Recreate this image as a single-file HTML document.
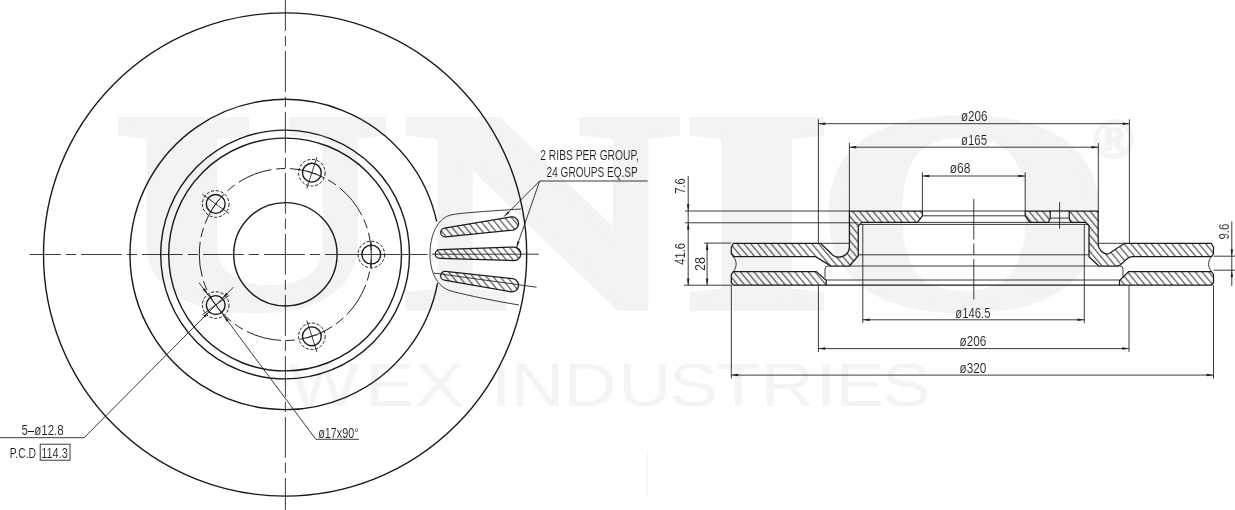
<!DOCTYPE html>
<html><head><meta charset="utf-8"><title>Brake disc drawing</title>
<style>
html,body{margin:0;padding:0;background:#fff;}
body{width:1235px;height:510px;overflow:hidden;}
svg{display:block;font-family:"Liberation Sans",sans-serif;filter:grayscale(1);}
.m{fill:none;stroke:#1a1a1a;stroke-width:1.4;}
.s{fill:none;stroke:#1a1a1a;stroke-width:1.25;stroke-linejoin:miter;}
.p{fill:none;stroke:#222;stroke-width:1.0;}
.t{fill:none;stroke:#262626;stroke-width:0.9;}
.ar{fill:#1a1a1a;stroke:none;}
.tx{font-family:"Liberation Sans",sans-serif;fill:#1c1c1c;stroke:#fff;stroke-width:0.1;}
.txg{opacity:0.999;}
.wmb{font-family:"Liberation Serif",serif;font-weight:bold;fill:#f3f3f3;stroke:#f3f3f3;stroke-linejoin:miter;stroke-miterlimit:2.5;}
.wm2{font-family:"Liberation Sans",sans-serif;fill:#f4f4f4;}
</style></head><body>
<svg width="1235" height="510" viewBox="0 0 1235 510">
<rect width="1235" height="510" fill="#ffffff"/>
<g class="wm">
<text class="wmb" transform="translate(0,306.2) scale(1.35,1)" x="84.9 299.5 505.7 604.4" font-size="282" stroke-width="9">UNIO</text>
<text transform="scale(1.2,1)" x="241.0 304.3 345.6 391.7 409.0 425.9 469.3 515.2 557.3 596.2 634.0 679.8 696.1 734.8" y="406" font-size="61.5" class="wm2">WEX INDUSTRIES</text>
<text x="1093.9" y="157.9" font-weight="bold" font-size="54" class="wm2" stroke="#f4f4f4" stroke-width="2.5">&#174;</text>
</g>
<line x1="647.3" y1="450" x2="647.3" y2="497.5" stroke="#f3f3f3" stroke-width="1.2"/>
<defs>
<pattern id="h2" width="5.2" height="8" patternUnits="userSpaceOnUse" patternTransform="rotate(-40)"><rect x="2" y="-1" width="0.9" height="10" fill="#1c1c1c"/></pattern>
<pattern id="h1" width="5.0" height="8" patternUnits="userSpaceOnUse" patternTransform="rotate(-38)"><rect x="2" y="-1" width="1.05" height="10" fill="#1c1c1c"/></pattern>
</defs>
<line class="t" x1="29.60" y1="254.50" x2="326.00" y2="254.50" stroke-dasharray="40.8 5 10.2 5" stroke-dashoffset="9.6"/>
<line class="t" x1="326.00" y1="254.50" x2="427.60" y2="254.50" />
<line class="t" x1="431.80" y1="254.20" x2="538.80" y2="254.20" />
<line class="t" x1="285.40" y1="0.00" x2="285.40" y2="510.00" stroke-dasharray="40.8 5 10.2 5" stroke-dashoffset="10"/>
<circle class="m" cx="285.10" cy="254.50" r="241.60" />
<path class="m" d="M437.55,283.03 A155.1,155.1 0 1 1 436.70,221.72" />
<circle class="m" cx="285.10" cy="254.50" r="124.40" />
<circle class="m" cx="285.10" cy="254.50" r="116.40" />
<circle class="p" cx="285.30" cy="254.50" r="86.00" stroke-dasharray="35.23 4.7 9.4 4.7" stroke-dashoffset="22.8"/>
<circle class="m" cx="285.40" cy="254.30" r="51.70" />
<circle class="m" cx="371.30" cy="254.50" r="9.40" />
<circle class="p" cx="371.30" cy="254.50" r="13.30" stroke-dasharray="3.1 1.7"/>
<line class="t" x1="371.30" y1="241.70" x2="371.30" y2="250.00" />
<line class="t" x1="371.30" y1="259.50" x2="371.30" y2="269.00" />
<circle class="m" cx="311.88" cy="172.71" r="9.40" />
<circle class="p" cx="311.88" cy="172.71" r="13.30" stroke-dasharray="3.1 1.7"/>
<line class="t" x1="306.78" y1="188.40" x2="316.97" y2="157.02" />
<line class="t" x1="306.64" y1="171.01" x2="317.11" y2="174.41" />
<circle class="m" cx="215.72" cy="203.95" r="9.40" />
<circle class="p" cx="215.72" cy="203.95" r="13.30" stroke-dasharray="3.1 1.7"/>
<line class="t" x1="229.07" y1="213.65" x2="202.38" y2="194.25" />
<line class="t" x1="212.49" y1="208.40" x2="218.96" y2="199.50" />
<circle class="m" cx="215.72" cy="305.05" r="9.40" />
<circle class="p" cx="215.72" cy="305.05" r="13.30" stroke-dasharray="3.1 1.7"/>
<line class="t" x1="229.07" y1="295.35" x2="202.38" y2="314.75" />
<circle class="m" cx="311.88" cy="336.29" r="9.40" />
<circle class="p" cx="311.88" cy="336.29" r="13.30" stroke-dasharray="3.1 1.7"/>
<line class="t" x1="306.78" y1="320.60" x2="316.97" y2="351.98" />
<line class="t" x1="317.11" y1="334.59" x2="306.64" y2="337.99" />
<line class="t" x1="0.00" y1="437.70" x2="84.20" y2="437.70" />
<line class="t" x1="84.20" y1="437.70" x2="233.33" y2="287.30" />
<polygon class="ar" points="209.11,311.72 205.21,317.43 203.43,315.67"/>
<polygon class="ar" points="222.34,298.37 226.24,292.67 228.02,294.43"/>
<line class="t" x1="315.80" y1="439.30" x2="198.99" y2="282.60" />
<line class="t" x1="315.80" y1="439.30" x2="358.80" y2="439.30" />
<polygon class="ar" points="223.61,315.63 228.68,320.34 226.68,321.83"/>
<polygon class="ar" points="207.84,294.47 202.77,289.76 204.77,288.27"/>
<text class="tx" transform="translate(21.40,434.50)" font-size="15" textLength="42.30" lengthAdjust="spacingAndGlyphs" >5&#8211;&#248;12.8</text>
<text class="tx" transform="translate(9.80,457.50)" font-size="15" textLength="26.30" lengthAdjust="spacingAndGlyphs" >P.C.D</text>
<text class="tx" transform="translate(41.20,457.50)" font-size="15" textLength="26.60" lengthAdjust="spacingAndGlyphs" >114.3</text>
<rect class="t" x="40.2" y="444.2" width="29.8" height="16"/>
<text class="tx" transform="translate(318.20,437.50)" font-size="15" textLength="40.40" lengthAdjust="spacingAndGlyphs" >&#248;17x90&#176;</text>
<path class="t" d="M521,209 C490,211 466,212.5 453,214.5 C437,217 430,236 430,254 C430,272 437,287 451,291 C470,296 495,301 519,305" />
<path class="s" d="M445.54,236.78 L512.83,230.02 A6.6,6.6 0 0 0 511.08,216.93 L444.38,228.06 A4.4,4.4 0 0 0 445.54,236.78 Z" style="fill:url(#h2)"/>
<path class="s" d="M439.71,258.39 L514.02,260.62 A6.8,6.8 0 0 0 513.98,247.02 L439.69,249.59 A4.4,4.4 0 0 0 439.71,258.39 Z" style="fill:url(#h2)"/>
<path class="s" d="M444.34,280.17 L511.04,291.81 A6.6,6.6 0 0 0 512.89,278.74 L445.57,271.46 A4.4,4.4 0 0 0 444.34,280.17 Z" style="fill:url(#h2)"/>
<line class="t" x1="433.50" y1="273.00" x2="536.50" y2="287.20" />
<line class="t" x1="539.70" y1="181.00" x2="647.70" y2="181.00" />
<line class="t" x1="539.70" y1="181.00" x2="504.30" y2="216.40" />
<polygon class="ar" points="504.30,216.40 507.76,211.38 509.32,212.94"/>
<line class="t" x1="539.70" y1="181.00" x2="516.50" y2="247.40" />
<polygon class="ar" points="516.50,247.40 517.44,241.37 519.52,242.10"/>
<text class="tx" transform="translate(540.30,159.80)" font-size="15" textLength="98.50" lengthAdjust="spacingAndGlyphs" >2 RIBS PER GROUP,</text>
<text class="tx" transform="translate(546.60,176.60)" font-size="15" textLength="91.20" lengthAdjust="spacingAndGlyphs" >24 GROUPS EQ.SP</text>
<path class="s" d="M731.3,247.3 L733.5,243.3 L820.6,243.3 L830.9,253.3 A10.5,10.5 0 0 0 849.4,246.5 L849.4,211.0 L922.4,211.0 L922.4,215.8 L917.5,222.4 L861.8,222.4 L858.3,225.9 L858.3,255.7 L849.4,266 L830.9,266 L815.6,256.6 L733.3,256.6 L731.3,253.60000000000002 Z" style="fill:url(#h2)"/>
<path class="s" d="M731.3,274.5 L733.3,271.5 L816.2,271.5 L826.2,280.3 L826.2,285.2 L733.3,285.2 L731.3,282.7 Z" style="fill:url(#h2)"/>
<path class="s" d="M1213.5,247.3 L1211.3,243.3 L1124.6,243.3 L1108,254.2 A10.5,10.5 0 0 1 1098.2,244.5 L1098.2,211.0 L1069.2,211.0 L1069.2,218.1 L1070.8,222.4 L1085.5,222.4 L1089,225.9 L1089,256.8 L1098.9,266 L1116.4,266 C1124,266 1124,256.6 1133,256.6 L1211.5,256.6 L1213.5,253.60000000000002 Z" style="fill:url(#h2)"/>
<path class="s" d="M1025.2,211.0 L1050.2,211.0 L1050.2,218.1 L1048.4,222.4 L1029.8,222.4 L1025.2,215.8 Z" style="fill:url(#h2)"/>
<path class="s" d="M1213.5,274.5 L1211.5,271.5 L1128.7,271.5 L1119.5,280.5 L1119.5,285.2 L1211.5,285.2 L1213.5,282.7 Z" style="fill:url(#h2)"/>
<path class="t" d="M733.3,256.6 C737.0999999999999,260.6 737.0999999999999,267.5 733.3,271.5" />
<path class="t" d="M1211.5,256.6 C1207.7,260.6 1207.7,267.5 1211.5,271.5" />
<line class="t" x1="858.30" y1="224.40" x2="1089.00" y2="224.40" />
<line class="t" x1="922.40" y1="211.00" x2="1025.20" y2="211.00" />
<line class="t" x1="922.40" y1="215.80" x2="1025.20" y2="215.80" />
<line class="t" x1="917.50" y1="222.40" x2="1029.80" y2="222.40" />
<line class="t" x1="858.30" y1="254.80" x2="1089.00" y2="254.80" />
<line class="t" x1="849.40" y1="266.00" x2="1098.90" y2="266.00" />
<line class="t" x1="826.20" y1="280.00" x2="1119.50" y2="280.00" />
<line class="s" x1="826.20" y1="285.20" x2="1119.50" y2="285.20" />
<line class="t" x1="820.60" y1="243.30" x2="849.40" y2="243.30" />
<line class="t" x1="1098.20" y1="243.30" x2="1124.60" y2="243.30" />
<path class="t" d="M830.9,266 L828,266 Q825,266 825,269 L825,277.5" />
<path class="t" d="M1116.4,266 L1120,266 Q1123,266 1123,269 L1123,277.5" />
<line class="t" x1="1050.20" y1="218.10" x2="1069.20" y2="218.10" />
<line class="s" x1="1050.20" y1="211.00" x2="1069.20" y2="211.00" />
<line class="t" x1="1048.40" y1="222.40" x2="1070.80" y2="222.40" />
<line class="t" x1="1059.60" y1="202.00" x2="1059.60" y2="228.70" />
<line class="t" x1="973.80" y1="199.00" x2="973.80" y2="299.50" stroke-dasharray="40.5 4 11.5 4 60"/>
<line class="t" x1="818.40" y1="119.30" x2="818.40" y2="243.30" />
<line class="t" x1="1129.40" y1="119.30" x2="1129.40" y2="243.30" />
<line class="t" x1="818.40" y1="123.70" x2="1129.40" y2="123.70" />
<polygon class="ar" points="818.40,123.70 825.20,122.45 825.20,124.95"/>
<polygon class="ar" points="1129.40,123.70 1122.60,124.95 1122.60,122.45"/>
<text class="tx" transform="translate(961.00,121.30)" font-size="15" textLength="26.50" lengthAdjust="spacingAndGlyphs" >&#248;206</text>
<line class="t" x1="849.40" y1="143.00" x2="849.40" y2="211.00" />
<line class="t" x1="1098.30" y1="143.00" x2="1098.30" y2="211.00" />
<line class="t" x1="849.40" y1="147.20" x2="1098.30" y2="147.20" />
<polygon class="ar" points="849.40,147.20 856.20,145.95 856.20,148.45"/>
<polygon class="ar" points="1098.30,147.20 1091.50,148.45 1091.50,145.95"/>
<text class="tx" transform="translate(961.00,144.50)" font-size="15" textLength="26.00" lengthAdjust="spacingAndGlyphs" >&#248;165</text>
<line class="t" x1="922.40" y1="172.30" x2="922.40" y2="211.00" />
<line class="t" x1="1025.20" y1="172.30" x2="1025.20" y2="211.00" />
<line class="t" x1="922.40" y1="176.00" x2="1025.20" y2="176.00" />
<polygon class="ar" points="922.40,176.00 929.20,174.75 929.20,177.25"/>
<polygon class="ar" points="1025.20,176.00 1018.40,177.25 1018.40,174.75"/>
<text class="tx" transform="translate(949.70,173.10)" font-size="15" textLength="20.80" lengthAdjust="spacingAndGlyphs" >&#248;68</text>
<line class="t" x1="862.80" y1="224.40" x2="862.80" y2="323.00" />
<line class="t" x1="1084.30" y1="224.40" x2="1084.30" y2="323.00" />
<line class="t" x1="862.80" y1="319.80" x2="1084.30" y2="319.80" />
<polygon class="ar" points="862.80,319.80 869.60,318.55 869.60,321.05"/>
<polygon class="ar" points="1084.30,319.80 1077.50,321.05 1077.50,318.55"/>
<text class="tx" transform="translate(955.30,317.50)" font-size="15" textLength="35.20" lengthAdjust="spacingAndGlyphs" >&#248;146.5</text>
<line class="t" x1="818.40" y1="285.20" x2="818.40" y2="352.00" />
<line class="t" x1="1129.00" y1="285.20" x2="1129.00" y2="352.00" />
<line class="t" x1="818.40" y1="348.60" x2="1129.00" y2="348.60" />
<polygon class="ar" points="818.40,348.60 825.20,347.35 825.20,349.85"/>
<polygon class="ar" points="1129.00,348.60 1122.20,349.85 1122.20,347.35"/>
<text class="tx" transform="translate(959.50,345.80)" font-size="15" textLength="26.80" lengthAdjust="spacingAndGlyphs" >&#248;206</text>
<line class="t" x1="731.30" y1="285.20" x2="731.30" y2="378.50" />
<line class="t" x1="1213.50" y1="285.20" x2="1213.50" y2="378.50" />
<line class="t" x1="731.30" y1="375.10" x2="1213.50" y2="375.10" />
<polygon class="ar" points="731.30,375.10 738.10,373.85 738.10,376.35"/>
<polygon class="ar" points="1213.50,375.10 1206.70,376.35 1206.70,373.85"/>
<text class="tx" transform="translate(959.50,372.80)" font-size="15" textLength="26.80" lengthAdjust="spacingAndGlyphs" >&#248;320</text>
<line class="t" x1="685.00" y1="211.00" x2="849.40" y2="211.00" />
<line class="t" x1="685.00" y1="222.80" x2="858.30" y2="222.80" />
<line class="t" x1="704.20" y1="243.10" x2="731.30" y2="243.10" />
<line class="t" x1="684.00" y1="285.20" x2="731.30" y2="285.20" />
<line class="t" x1="688.20" y1="176.00" x2="688.20" y2="285.20" />
<polygon class="ar" points="688.20,211.00 686.95,204.20 689.45,204.20"/>
<polygon class="ar" points="688.20,222.80 689.45,229.60 686.95,229.60"/>
<polygon class="ar" points="688.20,285.20 686.95,278.40 689.45,278.40"/>
<line class="t" x1="707.10" y1="243.10" x2="707.10" y2="285.20" />
<polygon class="ar" points="707.10,243.10 708.35,249.90 705.85,249.90"/>
<polygon class="ar" points="707.10,285.20 705.85,278.40 708.35,278.40"/>
<text class="tx" transform="translate(685.00,193.80) rotate(-90)" font-size="15" textLength="15.60" lengthAdjust="spacingAndGlyphs" >7.6</text>
<text class="tx" transform="translate(685.00,264.80) rotate(-90)" font-size="15" textLength="21.80" lengthAdjust="spacingAndGlyphs" >41.6</text>
<text class="tx" transform="translate(705.40,270.90) rotate(-90)" font-size="15" textLength="14.00" lengthAdjust="spacingAndGlyphs" >28</text>
<line class="t" x1="1213.50" y1="256.20" x2="1235.00" y2="256.20" />
<line class="t" x1="1213.50" y1="270.20" x2="1235.00" y2="270.20" />
<line class="t" x1="1231.80" y1="221.50" x2="1231.80" y2="286.00" />
<polygon class="ar" points="1231.80,256.20 1230.55,249.40 1233.05,249.40"/>
<polygon class="ar" points="1231.80,270.20 1233.05,277.00 1230.55,277.00"/>
<text class="tx" transform="translate(1228.50,239.60) rotate(-90)" font-size="15" textLength="16.00" lengthAdjust="spacingAndGlyphs" >9.6</text>
</svg>
</body></html>
